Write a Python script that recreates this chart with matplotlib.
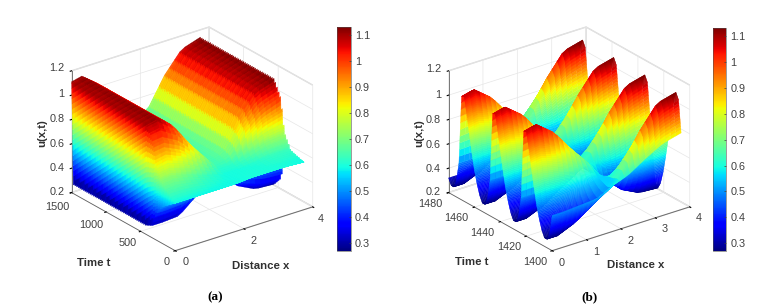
import numpy as np
import matplotlib
matplotlib.use('Agg')
import matplotlib.pyplot as plt

plt.rcParams['font.family'] = ['Liberation Sans', 'DejaVu Sans']

W, H = 769, 307
umin, umax = 0.27, 1.13

# read positions across the rod (both panels)
x_read = [0, 0.3, 0.8, 1.3, 1.8, 2.2, 2.7, 3.2, 3.75]

# panel a: upper and lower edge of the fast oscillation, rows are t_read_a
t_read_a = [0, 190, 280, 330, 430, 1500]
upper_a = [[.59, .59, .59, .59, .59, .60, .60, .60, .59],
           [.70, .71, .68, .63, .60, .60, .61, .63, .63],
           [.86, .88, .82, .72, .62, .62, .68, .73, .75],
           [1.02, 1.03, .95, .79, .64, .66, .83, .95, 1.01],
           [1.11, 1.13, 1.02, .82, .65, .68, .92, 1.09, 1.14],
           [1.11, 1.13, 1.02, .82, .65, .68, .92, 1.09, 1.14]]
lower_a = [[.59, .59, .59, .59, .59, .60, .60, .60, .59],
           [.50, .50, .50, .54, .58, .59, .57, .55, .55],
           [.41, .41, .42, .49, .56, .56, .52, .50, .49],
           [.30, .30, .31, .43, .54, .51, .41, .36, .35],
           [.27, .27, .28, .41, .53, .48, .35, .28, .27],
           [.27, .27, .28, .41, .53, .48, .35, .28, .27]]
cycles_a = 62

# panel b: one period of 24 read every 2 time units, starts at t=1400
t_read_b = [1400, 1480]
period_b = [[.49, .49, .50, .51, .58, .62, .71, .79, .83],
            [.33, .34, .38, .46, .55, .69, .88, 1.04, 1.09],
            [.27, .27, .33, .43, .53, .70, .92, 1.10, 1.14],
            [.27, .27, .33, .43, .53, .68, .85, 1.00, 1.06],
            [.32, .32, .37, .45, .54, .64, .74, .84, .88],
            [.40, .40, .44, .49, .55, .59, .64, .69, .72],
            [.50, .51, .52, .54, .56, .55, .54, .55, .56],
            [.63, .64, .63, .61, .58, .52, .44, .41, .42],
            [.78, .79, .76, .68, .60, .49, .38, .33, .32],
            [.93, .95, .88, .75, .62, .48, .35, .28, .27],
            [1.06, 1.09, .98, .80, .64, .49, .37, .30, .30],
            [1.05, 1.07, .96, .80, .63, .55, .53, .53, .55]]

xticks_a = [0, 2, 4]
tticks_a = [0, 500, 1000, 1500]
xticks_b = [0, 1, 2, 3, 4]
tticks_b = [1400, 1420, 1440, 1460, 1480]
zticks = [.2, .4, .6, .8, 1, 1.2]
zticklabels = ['0.2', '0.4', '0.6', '0.8', '1', '1.2']
cticks = [.3, .4, .5, .6, .7, .8, .9, 1, 1.1]
cticklabels = ['0.3', '0.4', '0.5', '0.6', '0.7', '0.8', '0.9', '1', '1.1']

# pixel places of the tick labels, the 3d axis can't put them this close
zlab_y_a = [192.3, 168.3, 144.3, 119.3, 94.3, 68.3]
tlab_a = [(166.7, 261.7), (127.3, 243.3), (91, 225), (57.7, 206.7)]
xlab_a = [(185.7, 262.3), (253.3, 240.7), (321, 219)]
zlab_y_b = [192.3, 169, 144.7, 120.3, 95, 69.3]
tlab_b = [(535, 261.7), (509, 246.7), (482.3, 232.7), (456.7, 218.3), (430, 204)]
xlab_b = [(561.7, 262.7), (596, 251.7), (630.7, 240.7), (664.3, 229.3), (698.3, 218.3)]


def fill_x(table, xs):
    # MATLAB "shading interp" stand in: finer mesh between the read values
    table = np.array(table)
    return np.array([np.interp(xs, x_read, row) for row in table])


def fill_t(table, t_from, ts):
    return np.array([np.interp(ts, t_from, col) for col in table.T]).T


def box_px(ax_px):
    l, t, s = ax_px
    return [l / W, 1 - (t + s) / H, s / W, s / H]


def put(px, py, s, **kw):
    kw.setdefault('ha', 'center')
    kw.setdefault('fontsize', 7.8)
    kw.setdefault('color', '#404040')
    fig.text(px / W, 1 - py / H, s, va='center', **kw)


def panel(pos, sheets, tlim, xticks, tticks):
    ax = fig.add_axes(box_px(pos), projection='3d', proj_type='ortho', computed_zorder=False)
    ax.set_box_aspect((1, 1, 0.78), zoom=1.0)
    ax.view_init(elev=25, azim=-127)
    for i, (X, T, Z) in enumerate(sheets):
        surf = ax.plot_surface(X, T, Z, cmap='jet', vmin=umin, vmax=umax, zorder=len(sheets) - i,
                               rstride=1, cstride=1, linewidth=.25, antialiased=True)
        surf.set_edgecolor('face')
    ax.set_xlim(0, 4)
    ax.set_ylim(*tlim)
    ax.set_zlim(.2, 1.2)
    ax.set_xticks(xticks)
    ax.set_yticks(tticks)
    ax.set_zticks(zticks)
    ax.set_xticklabels([])
    ax.set_yticklabels([])
    ax.set_zticklabels([])
    ax.zaxis.set_ticks_position('upper')
    for a in (ax.xaxis, ax.yaxis, ax.zaxis):
        a.set_pane_color((1, 1, 1, 1))
        a.pane.set_edgecolor('#d8d8d8')
        a.line.set_color('#606060')
        a.line.set_linewidth(.6)
        a._axinfo['grid']['color'] = '#e6e6e6'
        a._axinfo['grid']['linewidth'] = .5
        a._axinfo['tick']['inward_factor'] = .12
        a._axinfo['tick']['outward_factor'] = 0
    ax.patch.set_alpha(0)
    return surf


def colorbar(surf, left, top, right, bottom):
    cax = fig.add_axes([left / W, 1 - bottom / H, (right - left) / W, (bottom - top) / H])
    cb = fig.colorbar(surf, cax=cax)
    cb.set_ticks(cticks)
    cb.set_ticklabels(cticklabels)
    cb.ax.tick_params(labelsize=7.8, colors='#404040', length=1.5, width=.5,
                      direction='in', pad=3)
    cb.outline.set_linewidth(.4)
    cb.outline.set_edgecolor('#505050')


fig = plt.figure(figsize=(W / 100, H / 100), dpi=100)

# panel a
x_fine = np.linspace(0, 3.75, 26)
up = fill_x(upper_a, x_fine)
lo = fill_x(lower_a, x_fine)
# only the rising side of each cycle shows from this view, each one is its own
# sheet and the zorder stacks them back to front
steps = 20
sheets_a = []
dt = 1500 / cycles_a
for k in range(cycles_a):
    shift = (k * 0.618 % 1) / steps
    s = np.r_[0, np.clip(np.arange(1, steps) / steps + shift, 0, 1), 1]
    t = k * dt + np.linspace(0, dt, len(s))
    up_f = fill_t(up, t_read_a, t)
    lo_f = fill_t(lo, t_read_a, t)
    X, T = np.meshgrid(x_fine, t)
    sheets_a.append((X, T, lo_f + s[:, None] * (up_f - lo_f)))
surf_a = panel((53.5, 7.5, 270), sheets_a, (0, 1500), xticks_a, tticks_a)
colorbar(surf_a, 337, 27.3, 350.7, 251)

# panel b
t_rows = np.arange(t_read_b[0], t_read_b[1] + 1, 2)
table_b = np.take(period_b, np.arange(len(t_rows)), axis=0, mode='wrap')
t_b = np.arange(t_read_b[0], t_read_b[1] + .1, .2)
Z_b = fill_t(fill_x(table_b, x_fine), t_rows, t_b)
X_b, T_b = np.meshgrid(x_fine, t_b)
surf_b = panel((430.5, 7.5, 270), [(X_b, T_b, Z_b)], tuple(t_read_b), xticks_b, tticks_b)
colorbar(surf_b, 712.7, 28.3, 726.3, 251)

# tick labels
for y, s in zip(zlab_y_a, zticklabels):
    put(64.5, y, s, ha='right')
for (px, py), v in zip(tlab_a, tticks_a):
    put(px, py, str(v))
for (px, py), v in zip(xlab_a, xticks_a):
    put(px, py, str(v))
for y, s in zip(zlab_y_b, zticklabels):
    put(441, y, s, ha='right')
for (px, py), v in zip(tlab_b, tticks_b):
    put(px, py, str(v))
for (px, py), v in zip(xlab_b, xticks_b):
    put(px, py, str(v))

for px, py, s, rot in [(42, 133, 'u(x,t)', 90), (94, 263, 'Time t', 0), (261, 266, 'Distance x', 0),
                       (419, 133, 'u(x,t)', 90), (472, 262, 'Time t', 0), (636, 265, 'Distance x', 0)]:
    put(px, py, s, fontsize=8.2, fontweight='bold', color='#303030', rotation=rot)
put(215, 297, '(a)', fontsize=9.5, fontweight='bold', family='Liberation Serif', color='k')
put(590, 297, '(b)', fontsize=9.5, fontweight='bold', family='Liberation Serif', color='k')

fig.savefig('out.png', dpi=100)
